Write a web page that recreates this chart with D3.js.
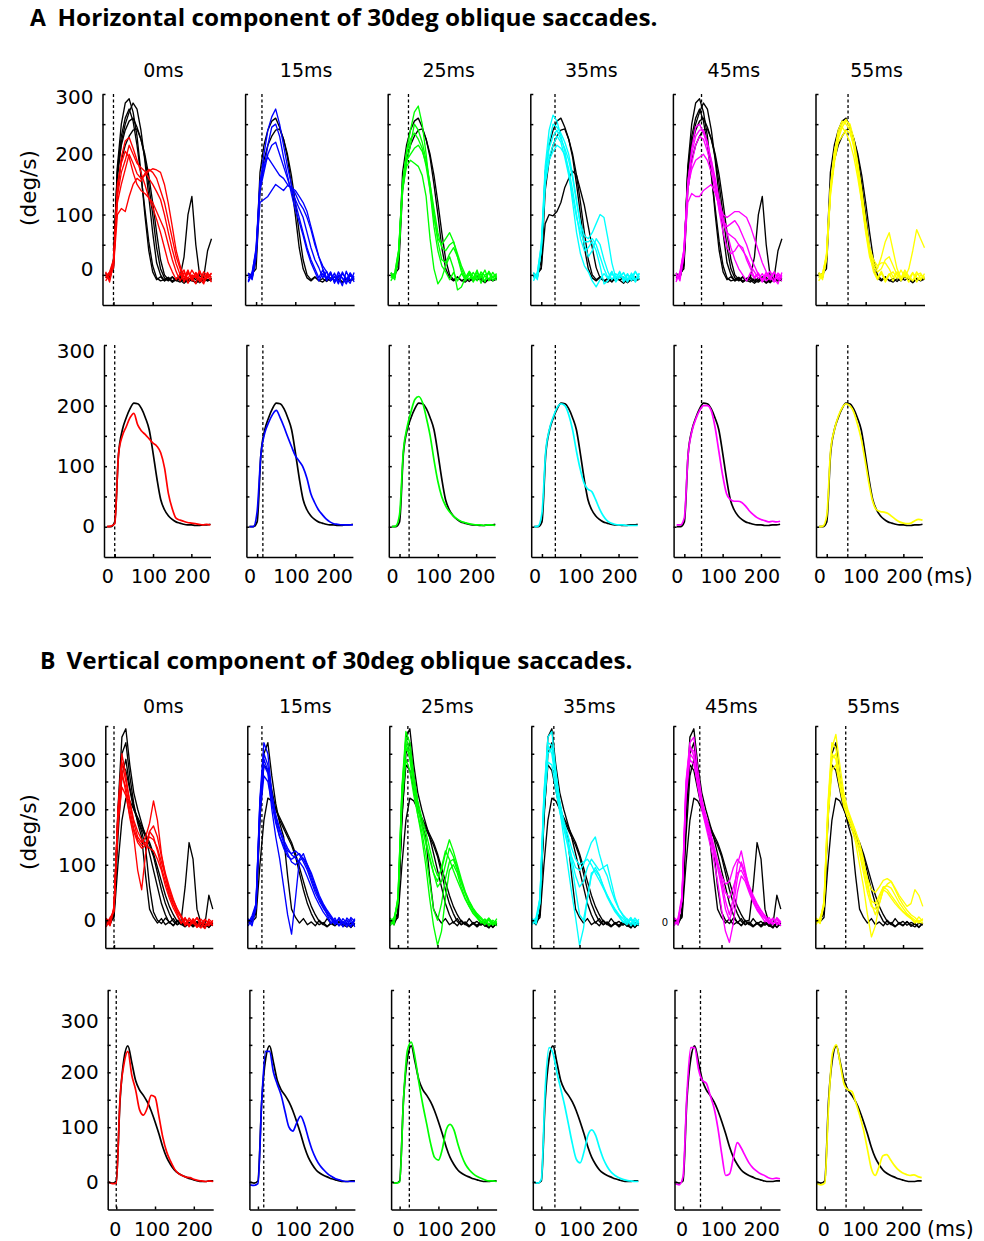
<!DOCTYPE html>
<html>
<head>
<meta charset="utf-8">
<script src="https://cdn.jsdelivr.net/npm/d3@7"></script>
<style>
  body { margin: 0; background: #fff; }
  svg text { font-family: "DejaVu Sans", sans-serif; fill: #000; }
</style>
</head>
<body>
<svg id="fig" width="984" height="1241"></svg>
<script>
// time grid (ms after saccade onset), shared by every trace
const times = [-20,-10,0,10,20,30,40, 50,60,70,80,90,100,110, 120,130,140,150,160,170,180, 190,200,210,220,230,240,250];

const delays = [0, 15, 25, 35, 45, 55];
const colLabels = ['0ms', '15ms', '25ms', '35ms', '45ms', '55ms'];
const colColors = ['#ff0000', '#0000ff', '#00ff00', '#00ffff', '#ff00ff', '#ffff00'];

const xTicks = [0, 100, 200];
const yTicksA = [0, 50, 100, 150, 200, 250, 300];
const yTicksB = [0, 50, 100, 150, 200, 250, 300, 350];
const yLabels = [0, 100, 200, 300];

// ---------- A: horizontal component, single trials ----------
const ctrlA = [
  [0,-5,20,180,250,285,292, 270,230,170,100,40,5,-8, -3,-10,-5,-12,-6,-9,-14, -8,-10,-12,-6,-11,-8,-10],
  [-5,0,15,160,220,250,270, 285,275,240,190,130,70,20, 0,-10,-6,-12,-8,-4,-10, -12,-7,-14,-9,-5,-10,-6],
  [3,-4,25,170,215,240,255, 260,245,225,195,150,100,45, 10,-5,-10,-4,-9,-12,-6, -10,-3,-8,-13,-7,-9,-5],
  [0,-3,18,175,230,260,275, 255,215,165,110,55,15,-5, -10,-8,-4,-10,-6,-3,30, 100,130,50,-2,-5,40,60],
  [-2,2,10,140,190,215,230, 240,242,225,200,165,120,70, 25,0,-8,-3,-10,-6,-11, -5,-9,-4,-12,-6,-10,-7],
  [-4,2,12,85,100,98,105, 120,145,160,172,165,140,115, 80,45,12,-5,-10,-6,-12, -4,-9,-14,-6,-10,-3,-8]
];
const ctrlUseA = [[0,1,2,3,4], [2,4], [2,4], [2,4,5], [0,1,2,3,4], [2,4]];

const rawA_0 = [
  [-5,3,20,140,195,222,228, 210,190,170,150,128,112,92, 70,45,20,5,-8,2,-10, 5,-6,3,-12,0,-5,2],
  [2,-8,15,120,150,175,200, 185,168,160,165,172,176,174, 170,150,118,80,40,15,-5, 8,-10,4,-6,-15,2,-4],
  [-10,0,12,100,110,105,130, 150,160,155,168,175,170,160, 140,120,90,60,30,10,-12, 3,-4,-15,6,-8,4,-9],
  [-3,5,25,150,185,205,195, 170,150,140,135,128,120,105, 90,75,50,25,5,-10,4, -7,8,-3,-10,5,-2,-12],
  [5,-12,18,130,170,190,215, 200,185,178,172,160,150,138, 125,100,70,42,18,0,8, -14,0,-5,7,-11,-4,3]
];
const rawA_15 = [
  [-10,5,40,150,200,240,262, 275,250,215,180,150,120,95, 70,45,25,10,-5,8,-10, 2,-12,5,-6,-15,0,-8],
  [3,-8,30,120,125,130,140, 150,145,140,148,145,135,120, 110,95,75,50,30,15,5, -8,3,-12,2,-6,-14,4],
  [-5,0,35,140,170,200,215, 220,200,180,160,140,125,110, 95,70,45,25,12,-5,6, -10,-2,-15,5,-8,3,-12],
  [-12,2,45,155,185,195,185, 175,165,160,150,145,140,130, 120,105,80,55,30,10,-5, 4,-10,-3,-18,6,-9,-2],
  [0,-6,38,148,175,215,245, 250,230,195,165,135,108,88, 65,40,20,5,-10,2,-8, 5,-14,0,-5,-12,3,-6]
];
const rawA_25 = [
  [-5,3,40,150,205,240,270, 280,250,200,140,80,40,15, 5,-8,4,-10,2,-6,5, -12,0,-5,8,-10,-3,2],
  [0,-8,35,145,190,200,210, 215,205,185,150,110,70,45, 40,50,55,35,15,0,-8, 4,-6,2,-12,5,-4,-9],
  [4,-3,30,140,180,190,185, 180,165,130,60,10,-15,-5, 15,30,10,-25,-20,-5,3, -8,4,-3,-10,6,-5,0],
  [-10,2,42,155,200,225,235, 225,210,180,140,95,60,50, 60,70,55,30,10,-5,6, -3,-10,5,-2,-8,4,-6],
  [2,-5,38,150,185,215,250, 240,220,190,150,100,55,25, 20,35,45,30,5,-10,0, -6,8,-14,0,3,-10,-2]
];
const rawA_35 = [
  [-6,4,50,180,240,265,255, 230,205,170,120,70,35,15, 5,-10,-20,-8,2,-6,5, -10,0,-4,-12,3,-7,-2],
  [2,-5,45,160,210,230,240, 225,210,190,160,120,85,65, 60,70,85,100,95,60,20, -5,4,-8,2,-10,5,-4],
  [-2,0,40,150,190,205,215, 210,200,175,140,100,60,40, 45,55,40,15,-15,-10,2, -6,6,-12,0,-5,-9,3],
  [-10,3,48,170,220,250,245, 235,220,200,165,125,80,50, 30,40,60,50,25,5,-8, 2,-5,4,-10,-4,6,-8],
  [4,-8,42,155,195,215,230, 220,195,165,130,95,70,55, 55,60,50,30,10,-5,6, -12,-2,3,-7,0,-12,2]
];
const rawA_45 = [
  [-8,3,40,150,210,245,250, 235,215,190,160,125,95,70, 45,25,10,0,-10,4,-6, 2,-12,0,-5,-10,3,-4],
  [0,-5,30,120,135,130,130, 140,145,150,135,115,100,95, 100,105,105,100,95,80,60, 40,20,5,-8,4,-3,-10],
  [3,-10,35,140,185,215,230, 225,205,180,150,115,90,80, 85,90,80,65,50,30,15, 0,-8,4,-2,-12,0,-6],
  [-4,0,38,145,175,190,195, 200,190,170,140,110,85,70, 65,60,50,40,30,15,5, -6,2,-10,-4,5,-8,0],
  [-12,5,42,155,200,230,240, 240,220,190,150,105,70,45, 35,40,50,45,25,10,-4, 3,-10,-2,6,-6,-15,4]
];
const rawA_55 = [
  [-5,3,30,140,200,240,255, 250,240,210,170,120,70,30, 10,-5,6,-8,2,-10,4, -6,0,-12,3,-4,-9,2],
  [2,-8,25,130,185,225,245, 255,250,225,185,140,90,45, 20,10,30,55,70,40,10, -5,8,-3,-10,5,-6,-2],
  [-10,0,35,145,205,235,245, 235,220,195,160,120,75,35, 5,-8,3,-12,0,5,-6, 8,-4,10,40,75,60,45],
  [0,-4,28,135,190,220,230, 240,235,215,180,135,85,40, 15,5,10,25,30,15,0, -8,4,-2,-10,0,3,-8],
  [4,-2,32,142,195,230,250, 258,245,215,175,125,80,45, 25,15,20,20,10,-4,5, -10,2,-6,4,-12,0,-5]
];

// A: mean traces
const meanA_ctrl    = [0,0,8,120,160,180,195, 204,203,195,180,160,122,80, 45,28,18,12,8,6,4, 3,3,2,2,3,3,4];
const meanA_red     = [0,1,5,120,150,165,180, 187,168,158,152,145,138,133, 122,97,55,30,14,11,9, 7,6,5,4,3,4,3];
const meanA_blue    = [0,0,25,120,155,172,185, 192,180,165,148,132,117,108, 98,80,55,40,28,20,13, 8,5,4,3,3,3,3];
const meanA_green   = [0,1,20,125,165,190,210, 215,205,180,150,110,75,50, 35,25,18,13,9,7,5, 4,3,3,2,3,3,2];
const meanA_cyan    = [0,1,22,125,162,182,197, 203,200,185,160,125,95,72, 62,58,45,30,18,10,6, 4,3,3,2,2,2,2];
const meanA_magenta = [3,3,15,120,158,178,192, 200,200,192,165,125,85,55, 45,42,42,40,34,26,20, 15,12,10,8,9,8,9];
const meanA_yellow  = [0,1,18,125,160,182,196, 203,200,190,170,145,110,72, 42,28,25,24,22,17,12, 8,6,5,6,10,12,11];

// ---------- B: vertical component, single trials ----------
const ctrlB = [
  [0,-8,10,200,330,345,280, 230,200,175,150,120,90,60, 30,10,-5,3,-8,-3,-10, -5,-12,-6,-9,-14,-4,-10],
  [-5,2,12,180,300,320,260, 210,175,150,80,20,5,-5, 3,-8,-3,-10,0,-7,-12, -4,-9,-2,-11,-6,-13,-5],
  [3,-5,8,150,260,290,240, 205,180,160,130,60,15,0, -6,4,-3,-9,-2,0,60, 140,110,20,-5,-8,45,20],
  [0,-3,5,100,180,220,215, 200,185,170,155,140,120,95, 70,45,25,10,-2,-8,3, -6,-10,-3,-8,-12,-5,-9],
  [-3,0,14,190,280,270,235, 200,180,165,150,135,115,85, 55,30,12,-2,-8,-4,-11, -6,-2,-9,-4,-7,-12,-6]
];
const ctrlUseB = [[0,1,2,3,4], [1,3,4], [0,1,3,4], [0,1,3,4], [0,1,2,3,4], [1,3,4]];

const rawB_0 = [
  [0,-10,20,200,300,260,210, 175,150,140,150,175,215,180, 120,80,50,30,15,5,-8, 4,-5,-12,2,-6,-10,0],
  [-8,5,15,180,260,240,200, 165,145,135,140,150,145,130, 105,80,55,35,20,8,-4, -10,3,-8,-14,0,-5,-10],
  [4,-6,25,190,270,230,185, 150,90,55,120,160,150,125, 95,70,45,28,12,-5,5, -12,-3,4,-9,-15,2,-5],
  [-12,0,18,170,240,225,190, 160,140,130,135,160,170,150, 115,85,60,38,20,5,-10, 0,-6,5,-4,-11,-2,-8],
  [2,-4,22,195,285,250,215, 180,160,145,135,130,125,110, 90,62,40,22,8,-6,3, -9,0,-13,-6,2,-7,-3]
];
const rawB_15 = [
  [-5,8,30,220,320,300,230, 185,160,140,125,120,125,118, 105,90,70,50,35,22,12, 2,-8,5,-6,0,-10,3],
  [0,-10,25,200,280,265,200, 150,110,60,10,-25,40,110, 120,100,80,60,40,25,10, -5,4,-10,-2,-8,2,-12],
  [-10,2,28,210,290,270,220, 180,150,130,115,110,115,120, 110,95,75,55,40,28,15, 5,-6,2,-12,4,-4,-7],
  [3,-6,22,190,260,250,210, 175,150,135,120,105,100,108, 112,100,85,65,45,30,18, 8,-3,-9,3,-5,-12,0],
  [-4,4,26,215,300,280,225, 190,165,145,130,118,112,105, 95,78,60,42,28,15,5, -6,0,-10,-3,-12,5,-2]
];
const rawB_25 = [
  [0,-8,40,240,340,320,260, 215,185,160,130,100,80,90, 120,145,125,100,75,52,35, 22,12,5,-3,4,-8,-2],
  [-6,3,35,220,310,300,240, 190,150,100,40,-10,-45,-20, 40,90,100,85,60,40,25, 12,4,-5,2,-10,-3,-6],
  [4,-4,38,230,320,290,240, 205,175,145,115,85,60,70, 100,130,115,95,70,50,33, 20,10,2,-6,0,-9,3],
  [-3,5,30,210,290,270,225, 190,160,120,70,20,0,30, 75,105,110,90,68,48,30, 18,8,-2,-8,3,-4,-10],
  [-10,0,42,235,330,305,250, 205,170,140,110,85,70,95, 125,110,90,72,55,38,25, 14,6,-4,2,-7,0,-5]
];
const rawB_35 = [
  [-4,5,40,230,330,340,270, 215,175,145,115,95,90,100, 120,140,150,120,95,80,55, 35,20,10,2,-6,4,-5],
  [0,-6,35,210,300,310,255, 200,150,100,50,5,-45,-15, 40,85,90,80,62,45,30, 18,8,-2,-8,2,-4,-9],
  [3,-3,38,220,315,300,250, 205,170,140,110,80,60,70, 95,110,100,90,95,100,70, 40,20,8,-3,5,-8,-2],
  [-8,2,30,200,285,280,235, 195,165,135,100,55,10,0, 40,80,95,82,60,42,28, 15,6,-4,3,-10,0,-6],
  [2,-7,42,225,320,315,265, 210,180,155,130,110,100,105, 110,100,85,72,58,45,32, 20,10,3,-5,1,-10,2]
];
const rawB_45 = [
  [-6,4,45,250,320,330,270, 220,185,160,135,105,70,35, 10,40,100,125,90,55,35, 20,10,3,-5,4,-8,-2],
  [0,-8,40,230,300,290,240, 200,170,140,110,70,20,-20, -40,-5,50,80,70,50,32, 18,8,-3,5,-6,2,-10],
  [3,-4,38,235,310,305,255, 210,180,155,128,100,80,65, 70,95,110,100,80,60,42, 28,16,8,-2,-8,3,-5],
  [-10,2,35,220,290,280,245, 215,190,165,135,105,75,50, 40,60,85,90,75,55,38, 24,12,5,-6,2,-4,-9],
  [5,-3,42,245,315,295,250, 205,175,150,122,95,60,20, 0,25,75,105,85,62,45, 30,18,8,0,-7,5,-3]
];
const rawB_55 = [
  [-5,2,30,200,310,335,280, 230,200,180,160,140,110,70, 30,10,30,55,65,70,55, 40,28,18,10,5,-3,2],
  [0,-6,28,190,290,300,250, 210,185,165,140,100,60,10, -30,-10,30,55,50,40,30, 22,15,8,3,-4,6,-2],
  [4,-3,35,210,320,310,260, 220,195,178,160,135,105,75, 55,50,60,72,75,70,58, 45,35,25,30,55,45,25],
  [-8,5,25,180,270,280,240, 205,185,170,150,120,85,50, 25,20,40,60,55,45,35, 25,16,10,4,-5,0,-6],
  [2,-5,32,205,300,290,245, 215,195,175,150,125,95,60, 35,30,45,60,62,58,45, 32,22,12,6,0,-5,3]
];

// B: mean traces
const meanB_ctrl    = [0,-2,2,150,225,248,218, 185,168,158,146,130,110,88, 64,45,32,22,16,12,9, 6,4,2,1,1,2,2];
const meanB_red     = [0,-3,-2,155,215,238,195, 168,132,122,135,158,155,120, 82,55,38,24,16,12,9, 8,5,3,2,1,2,1];
const meanB_blue    = [-5,-6,-3,150,238,238,200, 178,158,128,100,93,108,120, 105,80,58,42,30,22,15, 10,6,4,2,1,1,1];
const meanB_green   = [0,-2,0,150,240,255,225, 180,140,105,70,45,40,60, 95,105,95,70,48,32,22, 15,10,7,4,2,2,1];
const meanB_cyan    = [0,-2,5,170,245,235,200, 170,140,105,70,42,35,55, 85,95,85,62,42,28,18, 12,8,5,3,2,1,1];
const meanB_magenta = [-3,-5,10,160,245,245,205, 185,180,158,135,98,50,12, 15,45,72,62,48,35,26, 20,15,12,8,6,7,6];
const meanB_yellow  = [-3,-5,-2,140,235,250,215, 178,168,165,145,122,95,60, 25,12,28,48,50,40,30, 22,17,14,12,13,10,8];

const rawA = [rawA_0, rawA_15, rawA_25, rawA_35, rawA_45, rawA_55];
const rawB = [rawB_0, rawB_15, rawB_25, rawB_35, rawB_45, rawB_55];
const meansA = [meanA_red, meanA_blue, meanA_green, meanA_cyan, meanA_magenta, meanA_yellow];
const meansB = [meanB_red, meanB_blue, meanB_green, meanB_cyan, meanB_magenta, meanB_yellow];

// ---------- layout ----------
const rowsLayout = [
  {left0: 102.5, step: 142.6, width: 109,   top: 94,  bottom: 305,    yDomain: [-50, 300], xDomain: [-28, 250], yTicks: yTicksA, zeroDy: -6, topDy: 3},
  {left0: 104,   step: 142.4, width: 106.5, top: 345, bottom: 557,    yDomain: [-50, 300], xDomain: [-28, 250], yTicks: yTicksA, zeroDy: -1, topDy: 6},
  {left0: 105.3, step: 142,   width: 107.5, top: 726, bottom: 948,    yDomain: [-50, 350], xDomain: [-22, 250], yTicks: yTicksB, zeroDy: 0,  topDy: 6},
  {left0: 107.7, step: 141.7, width: 105.5, top: 990, bottom: 1209.5, yDomain: [-50, 350], xDomain: [-22, 250], yTicks: yTicksB, zeroDy: 0,  topDy: 4}
];

const svg = d3.select('#fig');

function drawPanel(row, col, traces) {
  const L = rowsLayout[row];
  const left = L.left0 + col * L.step;
  const x = d3.scaleLinear().domain(L.xDomain).range([left, left + L.width]);
  const y = d3.scaleLinear().domain(L.yDomain).range([L.bottom, L.top]);
  const g = svg.append('g');

  // dashed line at perturbation time
  g.append('line')
    .attr('x1', x(delays[col])).attr('x2', x(delays[col]))
    .attr('y1', L.top).attr('y2', L.bottom)
    .attr('stroke', '#000').attr('stroke-width', 1.3)
    .attr('stroke-dasharray', '3,2.5');

  traces.forEach(t => {
    const line = d3.line()
      .x((d, i) => x(times[i]))
      .y(d => y(d))
      .curve(t.smooth ? d3.curveMonotoneX : d3.curveLinear);
    g.append('path')
      .datum(t.values)
      .attr('d', line)
      .attr('fill', 'none')
      .attr('stroke', t.color)
      .attr('stroke-width', t.smooth ? 1.7 : 1.35)
      .attr('stroke-linejoin', 'round');
  });

  const yAxisG = g.append('g')
    .attr('transform', `translate(${left},0)`)
    .call(d3.axisLeft(y).tickValues(L.yTicks).tickSizeInner(-3).tickSizeOuter(0).tickFormat(''));
  const xAxisG = g.append('g')
    .attr('transform', `translate(0,${L.bottom})`)
    .call(d3.axisBottom(x).tickValues(xTicks).tickSizeInner(-3).tickSizeOuter(0).tickFormat(''));
  [yAxisG, xAxisG].forEach(a => {
    a.selectAll('path, line').attr('stroke', '#000').attr('stroke-width', 1.5);
  });

  return {x, y, left};
}

function addText(x, y, str, size, anchor) {
  return svg.append('text')
    .attr('x', x).attr('y', y)
    .attr('text-anchor', anchor || 'middle')
    .style('font-size', size + 'px')
    .text(str);
}

// ---------- draw all rows ----------
const sections = [
  {raw: rawA, ctrl: ctrlA, use: ctrlUseA, means: meansA, meanCtrl: meanA_ctrl, rawRow: 0, meanRow: 1, labelShift: [-7, -4, 1]},
  {raw: rawB, ctrl: ctrlB, use: ctrlUseB, means: meansB, meanCtrl: meanB_ctrl, rawRow: 2, meanRow: 3, labelShift: [-1, -3, 1]}
];

sections.forEach(sec => {
  for (let c = 0; c < 6; c++) {
    const rawTraces = sec.use[c].map(k => ({values: sec.ctrl[k], color: '#000'}))
      .concat(sec.raw[c].map(v => ({values: v, color: colColors[c]})));
    const p1 = drawPanel(sec.rawRow, c, rawTraces);
    const p2 = drawPanel(sec.meanRow, c, [
      {values: sec.meanCtrl, color: '#000', smooth: true},
      {values: sec.means[c], color: colColors[c], smooth: true}
    ]);

    if (c === 0) {
      [[sec.rawRow, p1], [sec.meanRow, p2]].forEach(([r, p]) => {
        const L = rowsLayout[r];
        yLabels.forEach(v => {
          const dy = v === 0 ? L.zeroDy : (v === 300 ? L.topDy : 0);
          addText(p.left - 9, p.y(v) + 7 + dy, v, 20, 'end');
        });
      });
    }
    xTicks.forEach((v, i) => {
      addText(p2.x(v) + sec.labelShift[i], rowsLayout[sec.meanRow].bottom + 26, v, 19);
    });
  }
});

// column titles
colLabels.forEach((t, c) => {
  addText(rowsLayout[0].left0 + c * rowsLayout[0].step + 61, 77, t, 19);
  addText(rowsLayout[2].left0 + c * rowsLayout[2].step + 58, 713, t, 19);
});

// y-axis titles
svg.append('text').attr('transform', 'translate(28,188) rotate(-90)')
  .attr('text-anchor', 'middle').attr('dy', '0.35em').style('font-size', '21.5px').text('(deg/s)');
svg.append('text').attr('transform', 'translate(28,832) rotate(-90)')
  .attr('text-anchor', 'middle').attr('dy', '0.35em').style('font-size', '21.5px').text('(deg/s)');

// unit labels
addText(926, 583, '(ms)', 20.5, 'start');
addText(927, 1236, '(ms)', 20.5, 'start');

// stray small zero in B, 45ms panel
addText(665, 926, '0', 10, 'middle');

// section titles
function sectionTitle(letter, lx, rest, rx, base, len) {
  svg.append('text').attr('x', lx).attr('y', base)
    .style('font-family', '"Open Sans", sans-serif').style('font-weight', 700).style('font-size', '23px')
    .text(letter);
  svg.append('text').attr('x', rx).attr('y', base)
    .attr('textLength', len).attr('lengthAdjust', 'spacingAndGlyphs')
    .style('font-family', '"Open Sans", sans-serif').style('font-weight', 700).style('font-size', '23px')
    .text(rest);
}
sectionTitle('A', 30, 'Horizontal component of 30deg oblique saccades.', 57.5, 26, 600);
sectionTitle('B', 40, 'Vertical component of 30deg oblique saccades.', 66.5, 669, 566);
</script>
</body>
</html>
